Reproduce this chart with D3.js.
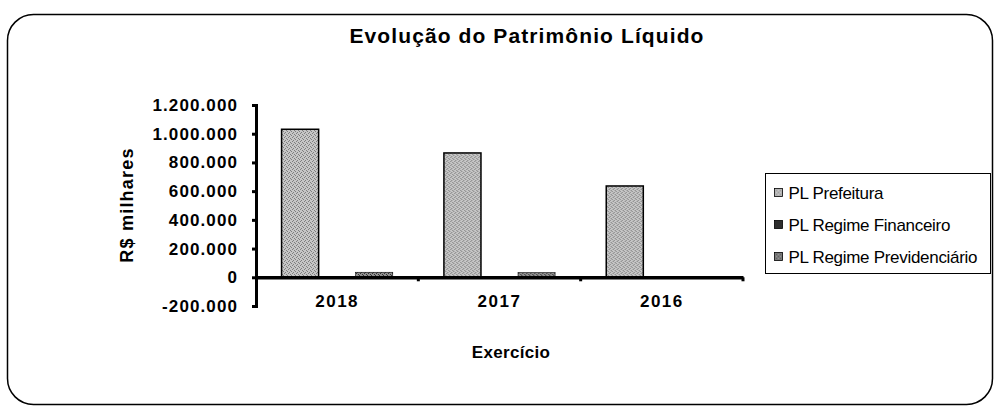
<!DOCTYPE html>
<html>
<head>
<meta charset="utf-8">
<script src="https://cdn.jsdelivr.net/npm/d3@7"></script>
<style>
  body { margin: 0; background: #fff; }
  text { font-family: "Liberation Sans", Arial, sans-serif; }
</style>
</head>
<body>
<div class="canvas"></div>
<script>
// data (R$ milhares)
const years = ['2018', '2017', '2016'];
const series = ['PL Prefeitura', 'PL Regime Financeiro', 'PL Regime Previdenciário'];
const plPrefeitura = [1031000, 866000, 636000];
const plFinanceiro = [-1500, -1500, -1000];
const plPrevidenciario = [35000, 32000, 1500];
const yTicks = [-200000, 0, 200000, 400000, 600000, 800000, 1000000, 1200000];

const W = 997, H = 408;
const svg = d3.select('.canvas')
    .append('svg')
        .attr('width', W)
        .attr('height', H);

// stipple textures, like the scanned excel fills
const defs = svg.append('defs');
function stipple(id, base, dot) {
    const p = defs.append('pattern')
        .attr('id', id)
        .attr('width', 4).attr('height', 4)
        .attr('patternUnits', 'userSpaceOnUse');
    p.append('rect').attr('width', 4).attr('height', 4).attr('fill', base);
    [[0, 0], [2, 1], [1, 3], [3, 2]].forEach(([x, y]) =>
        p.append('rect').attr('x', x).attr('y', y).attr('width', 1).attr('height', 1).attr('fill', dot));
}
stipple('fillPref', '#c6c6c6', '#7e7e7e');
stipple('fillPrev', '#909090', '#333');
const fills = ['url(#fillPref)', '#2e2e2e', 'url(#fillPrev)'];

// outer rounded frame
svg.append('rect')
    .attr('x', 7.5).attr('y', 14.5)
    .attr('width', 985).attr('height', 390)
    .attr('rx', 26).attr('ry', 26)
    .attr('fill', 'none')
    .attr('stroke', '#000')
    .attr('stroke-width', 1.5);

// title
svg.append('text')
    .attr('x', 527).attr('y', 43)
    .attr('text-anchor', 'middle')
    .style('font-size', '21px').style('font-weight', 'bold')
    .style('letter-spacing', '1.1px')
    .text('Evolução do Patrimônio Líquido');

const margin = {top: 105, left: 256};
const plotW = 487, plotH = 201;
const graph = svg.append('g')
    .attr('transform', `translate(${margin.left}, ${margin.top})`);

const y = d3.scaleLinear()
    .domain([-200000, 1200000])
    .range([plotH, 0]);

const x = d3.scaleBand()
    .domain(years)
    .range([0, plotW]);

const xs = d3.scaleBand()
    .domain(series)
    .range([0, x.bandwidth()])
    .paddingOuter(0.69);

const table = years.map((yr, i) => ({
    year: yr,
    vals: [plPrefeitura[i], plFinanceiro[i], plPrevidenciario[i]]
}));

// bars
const groups = graph.selectAll('g.year')
    .data(table)
    .enter()
    .append('g')
        .attr('class', 'year')
        .attr('transform', d => `translate(${x(d.year)}, 0)`);

groups.selectAll('rect')
    .data(d => d.vals.map((v, k) => ({s: series[k], v, k})))
    .enter()
    .append('rect')
        .attr('x', d => xs(d.s))
        .attr('width', xs.bandwidth())
        .attr('y', d => y(Math.max(0, d.v)))
        .attr('height', d => Math.abs(y(d.v) - y(0)))
        .attr('fill', d => fills[d.k])
        .attr('stroke', '#000')
        .attr('stroke-width', d => d.k === 0 ? 1.5 : 0.6);

// y axis
const yAxis = d3.axisLeft(y)
    .tickValues(yTicks)
    .tickSize(4)
    .tickPadding(14)
    .tickFormat(d => d3.format(',')(d).replace(/,/g, '.').replace('−', '-'));

const yGroup = graph.append('g').call(yAxis);
yGroup.select('.domain').attr('stroke-width', 3);
yGroup.selectAll('.tick line').attr('stroke-width', 3);
yGroup.selectAll('text')
    .style('font-size', '17px').style('font-weight', 'bold')
    .style('letter-spacing', '1.1px')
    .attr('fill', '#000');

// x axis at zero
const xAxis = d3.axisBottom(x)
    .tickSize(0)
    .tickPadding(18);
const xGroup = graph.append('g')
    .attr('transform', `translate(0, ${y(0)})`)
    .call(xAxis);
xGroup.select('.domain').attr('stroke-width', 3.5);
xGroup.selectAll('text')
    .style('font-size', '17px').style('font-weight', 'bold')
    .style('letter-spacing', '1.5px')
    .attr('fill', '#000');
// category separators below the line
xGroup.selectAll('line.sep')
    .data(years)
    .enter()
    .append('line')
        .attr('class', 'sep')
        .attr('x1', d => x(d) + x.bandwidth())
        .attr('x2', d => x(d) + x.bandwidth())
        .attr('y1', 0).attr('y2', 4)
        .attr('stroke', '#000').attr('stroke-width', 3);

// axis titles
svg.append('text')
    .attr('transform', 'translate(133, 205) rotate(-90)')
    .attr('text-anchor', 'middle')
    .style('font-size', '18px').style('font-weight', 'bold')
    .style('letter-spacing', '1.2px')
    .text('R$ milhares');

svg.append('text')
    .attr('x', 511).attr('y', 358)
    .attr('text-anchor', 'middle')
    .style('font-size', '17px').style('font-weight', 'bold')
    .style('letter-spacing', '0.3px')
    .text('Exercício');

// legend
const legend = svg.append('g').attr('transform', 'translate(765.5, 173.5)');
legend.append('rect')
    .attr('width', 225).attr('height', 100)
    .attr('fill', '#fff')
    .attr('stroke', '#000').attr('stroke-width', 1);

const items = legend.selectAll('g.item')
    .data(series)
    .enter()
    .append('g')
        .attr('class', 'item')
        .attr('transform', (d, i) => `translate(0, ${19 + i * 32})`);

items.append('rect')
    .attr('x', 9).attr('y', -4)
    .attr('width', 8).attr('height', 8)
    .attr('fill', (d, i) => fills[i])
    .attr('stroke', '#000').attr('stroke-width', 0.8);

items.append('text')
    .attr('x', 23).attr('y', 6.5)
    .style('font-size', '17px')
    .style('letter-spacing', '-0.3px')
    .text(d => d);
</script>
</body>
</html>
